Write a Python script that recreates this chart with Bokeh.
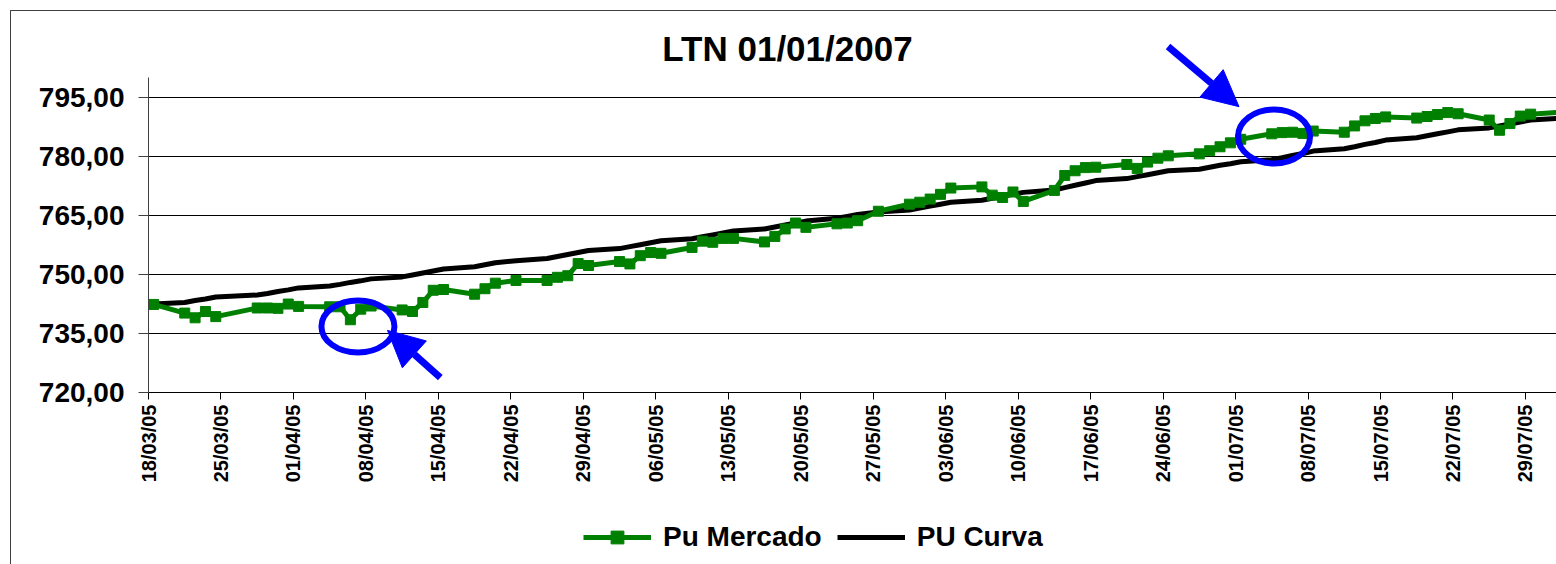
import pandas as pd
from math import pi
from bokeh.plotting import figure
from bokeh.layouts import column
from bokeh.models import (ColumnDataSource, FixedTicker, DatetimeTickFormatter, Range1d,
                          Legend, LegendItem, Arrow, NormalHead, Label)
from bokeh.embed import file_html
from bokeh.resources import INLINE

FONT = "Liberation Sans"

# ---------------- data ----------------
title_text = "LTN 01/01/2007"
series_names = ["Pu Mercado", "PU Curva"]

dates = [
    "2005-03-18", "2005-03-21", "2005-03-22", "2005-03-23", "2005-03-24",
    "2005-03-28", "2005-03-29", "2005-03-30", "2005-03-31",
    "2005-04-01", "2005-04-04", "2005-04-05", "2005-04-06", "2005-04-07", "2005-04-08",
    "2005-04-11", "2005-04-12", "2005-04-13", "2005-04-14", "2005-04-15",
    "2005-04-18", "2005-04-19", "2005-04-20", "2005-04-22",
    "2005-04-25", "2005-04-26", "2005-04-27", "2005-04-28", "2005-04-29",
    "2005-05-02", "2005-05-03", "2005-05-04", "2005-05-05", "2005-05-06",
    "2005-05-09", "2005-05-10", "2005-05-11", "2005-05-12", "2005-05-13",
    "2005-05-16", "2005-05-17", "2005-05-18", "2005-05-19", "2005-05-20",
    "2005-05-23", "2005-05-24", "2005-05-25", "2005-05-27",
    "2005-05-30", "2005-05-31",
    "2005-06-01", "2005-06-02", "2005-06-03",
    "2005-06-06", "2005-06-07", "2005-06-08", "2005-06-09", "2005-06-10",
    "2005-06-13", "2005-06-14", "2005-06-15", "2005-06-16", "2005-06-17",
    "2005-06-20", "2005-06-21", "2005-06-22", "2005-06-23", "2005-06-24",
    "2005-06-27", "2005-06-28", "2005-06-29", "2005-06-30",
    "2005-07-01", "2005-07-04", "2005-07-05", "2005-07-06", "2005-07-07", "2005-07-08",
    "2005-07-11", "2005-07-12", "2005-07-13", "2005-07-14", "2005-07-15",
    "2005-07-18", "2005-07-19", "2005-07-20", "2005-07-21", "2005-07-22",
    "2005-07-25", "2005-07-26", "2005-07-27", "2005-07-28", "2005-07-29",
    "2005-08-01",
]

pu_mercado = [
    742.4, 740.2, 739.0, 740.6, 739.3, 741.5, 741.5, 741.4, 742.5,
    741.9, 741.8, 741.8, 738.5, 741.2, 742.0, 741.0, 740.6, 742.9, 746.0, 746.2,
    745.0, 746.4, 747.8, 748.5, 748.5, 749.3, 749.7, 752.8, 752.3,
    753.3, 752.7, 754.8, 755.6, 755.4, 756.9, 758.5, 758.2, 759.2, 759.2,
    758.3, 759.7, 761.6, 763.1, 762.0, 762.9, 763.1, 763.7, 766.1, 767.9, 768.4,
    769.2, 770.4, 772.0, 772.3, 770.2, 769.6, 771.0, 768.6, 771.4, 775.2, 776.4,
    777.2, 777.3, 778.0, 777.0, 778.6, 779.6, 780.2, 780.7, 781.5, 782.5, 783.5,
    784.4, 785.8, 786.1, 786.2, 785.9, 786.5, 786.2, 787.8, 789.1, 789.7, 790.1,
    789.8, 790.2, 790.7, 791.2, 790.9, 789.3, 786.7, 788.4, 790.3, 790.8,
    791.3,
]

pu_curva = [
    742.5, 742.9, 743.4, 743.8, 744.3, 744.8, 745.2, 745.7, 746.1,
    746.6, 747.1, 747.5, 748.0, 748.4, 748.9, 749.4, 749.9, 750.4, 750.9, 751.4,
    752.0, 752.5, 753.0, 753.5, 754.1, 754.6, 755.1, 755.6, 756.1,
    756.6, 757.1, 757.6, 758.1, 758.6, 759.1, 759.6, 760.1, 760.6, 761.1,
    761.6, 762.1, 762.6, 763.1, 763.6, 764.3, 764.8, 765.3, 765.9, 766.4, 766.9,
    767.4, 767.9, 768.4, 768.9, 769.4, 769.9, 770.4, 770.9, 771.5, 772.1, 772.7,
    773.3, 773.9, 774.4, 774.9, 775.4, 775.9, 776.4, 776.8, 777.3, 777.8, 778.2,
    778.7, 779.2, 779.7, 780.3, 780.8, 781.4, 782.0, 782.5, 783.1, 783.6, 784.2,
    784.8, 785.3, 785.8, 786.3, 786.8, 787.3, 787.8, 788.3, 788.8, 789.3,
    789.8,
]

x_tick_labels = [
    "18/03/05", "25/03/05", "01/04/05", "08/04/05", "15/04/05", "22/04/05",
    "29/04/05", "06/05/05", "13/05/05", "20/05/05", "27/05/05", "03/06/05",
    "10/06/05", "17/06/05", "24/06/05", "01/07/05", "08/07/05", "15/07/05",
    "22/07/05", "29/07/05",
]
y_ticks = [720, 735, 750, 765, 780, 795]
y_tick_labels = ["720,00", "735,00", "750,00", "765,00", "780,00", "795,00"]
y_axis_bounds = (720, 800)

# highlighted spots (blue circles) and arrows, in data coordinates
highlight_x = ["2005-04-07 05:30", "2005-07-04 17:15"]
highlight_y = [736.8, 785.1]
arrows = [  # (tail date, tail value, tip date, tip value)
    ("2005-04-15 04:30", 723.8, "2005-04-10 02:00", 735.8),
    ("2005-06-24 11:30", 808.0, "2005-07-01 08:00", 792.7),
]
title_pos = ("2005-05-18 17:15", 807.6)


def ms(ts):
    return pd.Timestamp(ts).value / 1e6


DAY = 86400000.0
GREEN = "#008000"
BLUE = "#0000FF"

# ---------------- main figure ----------------
x = pd.to_datetime(dates) + pd.Timedelta(hours=12)
src = ColumnDataSource(dict(x=x, mercado=pu_mercado, curva=pu_curva))

x_start = ms("2005-03-18")
x_end = x_start + 136.0 * DAY

W = 1545
LEFT = 137
p = figure(width=W, height=490, x_axis_type="datetime",
           output_backend="svg", toolbar_location=None,
           x_range=Range1d(x_start, x_end), y_range=Range1d(720, 813.6),
           min_border_left=LEFT, min_border_right=0, min_border_top=13,
           min_border_bottom=109)
p.title.visible = False
p.outline_line_color = None
p.background_fill_color = "white"
p.border_fill_color = "white"

p.xgrid.grid_line_color = None
p.ygrid.grid_line_color = "black"
p.ygrid.grid_line_width = 1
p.ygrid.bounds = y_axis_bounds

yax = p.yaxis[0]
yax.bounds = y_axis_bounds
yax.ticker = FixedTicker(ticks=y_ticks)
yax.major_label_overrides = dict(zip(y_ticks, y_tick_labels))
yax.major_label_text_font = FONT
yax.major_label_text_font_size = "28px"
yax.major_label_text_font_style = "bold"
yax.major_label_text_color = "black"
yax.major_tick_out = 10
yax.major_tick_in = 0
yax.minor_tick_out = 0
yax.minor_tick_in = 0
yax.major_label_standoff = 14
yax.axis_line_color = "#404040"
yax.major_tick_line_color = "#404040"

tick_ms = [pd.to_datetime(s, format="%d/%m/%y").value / 1e6 for s in x_tick_labels]
xax = p.xaxis[0]
xax.ticker = FixedTicker(ticks=tick_ms)
fmt = "%d/%m/%y"
xax.formatter = DatetimeTickFormatter(
    microseconds=fmt, milliseconds=fmt, seconds=fmt, minsec=fmt, minutes=fmt,
    hourmin=fmt, hours=fmt, days=fmt, months=fmt, years=fmt)
xax.major_label_overrides = dict(zip(tick_ms, x_tick_labels))
xax.major_label_orientation = pi / 2
xax.major_label_text_font = FONT
xax.major_label_text_font_size = "20px"
xax.major_label_text_font_style = "bold"
xax.major_label_text_color = "black"
xax.major_tick_out = 7
xax.major_tick_in = 0
xax.minor_tick_out = 0
xax.minor_tick_in = 0
xax.major_label_standoff = 5
xax.axis_line_color = "black"
xax.major_tick_line_color = "black"

p.line("x", "curva", source=src, line_color="black", line_width=5)
p.line("x", "mercado", source=src, line_color=GREEN, line_width=5)
p.scatter("x", "mercado", source=src, marker="square", size=10,
          fill_color=GREEN, line_color=GREEN)

# highlight ellipses
p.ellipse(x=pd.to_datetime(highlight_x), y=highlight_y, width=[73, 72], height=[52, 54],
          width_units="screen", height_units="screen",
          fill_alpha=0, line_color=BLUE, line_width=6)

for tx, ty, hx, hy in arrows:
    p.add_layout(Arrow(end=NormalHead(size=36, fill_color=BLUE, line_color=BLUE),
                       x_start=ms(tx), y_start=ty, x_end=ms(hx), y_end=hy,
                       line_color=BLUE, line_width=7))

p.add_layout(Label(x=ms(title_pos[0]), y=title_pos[1], text=title_text,
                   text_align="center", text_baseline="middle",
                   text_font=FONT, text_font_size="35px", text_font_style="bold",
                   text_color="black"))

# ---------------- legend strip ----------------
LH = 63
pl = figure(width=W, height=LH, output_backend="svg", toolbar_location=None,
            x_range=Range1d(0, W - LEFT), y_range=Range1d(0, LH),
            x_axis_location=None, y_axis_location=None,
            min_border_left=LEFT, min_border_right=0, min_border_top=0, min_border_bottom=0)
pl.title.visible = False
pl.outline_line_color = None
pl.grid.visible = False
# off-screen sample glyphs, only used to draw the legend keys
hidden = ColumnDataSource(dict(x=[-1000, -999], y=[-1000, -1000]))
l1 = pl.line("x", "y", source=hidden, line_color=GREEN, line_width=5)
l2 = pl.scatter("x", "y", source=hidden, marker="square", size=10,
                fill_color=GREEN, line_color=GREEN)
l3 = pl.line("x", "y", source=hidden, line_color="black", line_width=5)
legend = Legend(items=[LegendItem(label=series_names[0], renderers=[l1, l2]),
                       LegendItem(label=series_names[1], renderers=[l3])],
                orientation="horizontal", location=(435, 11),
                label_text_font=FONT, label_text_font_size="28px",
                label_text_font_style="bold", label_text_color="black",
                glyph_width=68, glyph_height=32, label_height=32,
                label_standoff=12, spacing=15,
                border_line_alpha=0, background_fill_alpha=0, margin=0, padding=0)
pl.add_layout(legend, "center")

layout = column(p, pl, spacing=0)
layout.styles = {"border-left": "1px solid #404040", "border-top": "1px solid #404040",
                 "margin-left": "10px", "margin-top": "10px"}

open("out.html", "w").write(file_html(layout, INLINE))
